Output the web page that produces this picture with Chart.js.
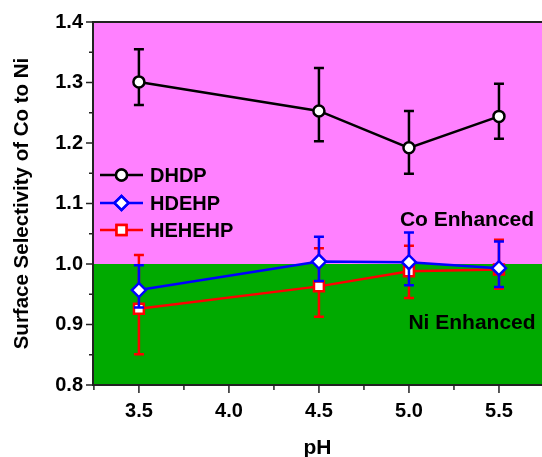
<!DOCTYPE html>
<html>
<head>
<meta charset="utf-8">
<script src="https://cdn.jsdelivr.net/npm/chart.js@4"></script>
<style>
  html, body { margin: 0; padding: 0; background: #fff; }
  #wrap { width: 542px; height: 457px; }
</style>
</head>
<body>
<div id="wrap"><canvas id="chart" width="542" height="457"></canvas></div>
<script>
const PH = [3.5, 4.5, 5.0, 5.5];

const DHDP = [1.301, 1.253, 1.192, 1.244];
const DHDP_HI = [1.355, 1.324, 1.253, 1.298];
const DHDP_LO = [1.263, 1.203, 1.149, 1.207];

const HDEHP = [0.957, 1.004, 1.003, 0.993];
const HDEHP_HI = [0.998, 1.045, 1.052, 1.037];
const HDEHP_LO = [0.928, 0.972, 0.965, 0.962];

const HEHEHP = [0.926, 0.963, 0.988, 0.991];
const HEHEHP_HI = [1.015, 1.026, 1.030, 1.040];
const HEHEHP_LO = [0.851, 0.913, 0.944, 0.959];

const X_TICKS = [3.25, 3.5, 3.75, 4.0, 4.25, 4.5, 4.75, 5.0, 5.25, 5.5];
const Y_TICKS = [0.8, 0.85, 0.9, 0.95, 1.0, 1.05, 1.1, 1.15, 1.2, 1.25, 1.3, 1.35, 1.4];
const SPLIT = 1.0;

const FONT = "'Liberation Sans', Arial, sans-serif";

const pts = (ys) => PH.map((x, i) => ({ x, y: ys[i] }));

const series = [
  { label: 'DHDP', y: DHDP, hi: DHDP_HI, lo: DHDP_LO, color: '#000000', style: 'circle', r: 5.5 },
  { label: 'HDEHP', y: HDEHP, hi: HDEHP_HI, lo: HDEHP_LO, color: '#0000ff', style: 'rectRot', r: 7 },
  { label: 'HEHEHP', y: HEHEHP, hi: HEHEHP_HI, lo: HEHEHP_LO, color: '#ff0000', style: 'rect', r: 7 }
];

// pink / green background split at 1.0
const bgPlugin = {
  id: 'bg',
  beforeDraw(chart) {
    const { ctx, chartArea: a, scales } = chart;
    const ys = scales.y.getPixelForValue(SPLIT);
    ctx.save();
    ctx.fillStyle = '#ff80ff';
    ctx.fillRect(a.left, a.top, a.right - a.left, ys - a.top);
    ctx.fillStyle = '#00aa00';
    ctx.fillRect(a.left, ys, a.right - a.left, a.bottom - ys);
    ctx.restore();
  }
};

// error bars, drawn just before each dataset
const errPlugin = {
  id: 'err',
  beforeDatasetDraw(chart, args) {
    const s = series[args.index];
    const { ctx, scales } = chart;
    ctx.save();
    ctx.strokeStyle = s.color;
    ctx.lineWidth = 2.5;
    PH.forEach((v, i) => {
      const x = scales.x.getPixelForValue(v);
      const yh = scales.y.getPixelForValue(s.hi[i]);
      const yl = scales.y.getPixelForValue(s.lo[i]);
      ctx.beginPath();
      ctx.moveTo(x, yh); ctx.lineTo(x, yl);
      ctx.moveTo(x - 5, yh); ctx.lineTo(x + 5, yh);
      ctx.moveTo(x - 5, yl); ctx.lineTo(x + 5, yl);
      ctx.stroke();
    });
    ctx.restore();
  }
};

// frame, tick marks, legend and region labels
const decoPlugin = {
  id: 'deco',
  afterDraw(chart) {
    const { ctx, chartArea: a, scales } = chart;
    ctx.save();
    ctx.strokeStyle = '#222';
    ctx.lineWidth = 2;
    ctx.beginPath();
    ctx.moveTo(chart.width, a.top); ctx.lineTo(a.left, a.top);
    ctx.lineTo(a.left, a.bottom); ctx.lineTo(chart.width, a.bottom);
    ctx.stroke();

    ctx.lineWidth = 1.5;
    ctx.beginPath();
    Y_TICKS.forEach(v => {
      const y = scales.y.getPixelForValue(v);
      const major = Math.abs(v * 10 - Math.round(v * 10)) < 1e-6;
      ctx.moveTo(a.left, y); ctx.lineTo(a.left - (major ? 7 : 4), y);
    });
    X_TICKS.forEach(v => {
      const x = scales.x.getPixelForValue(v);
      const major = Math.abs(v * 2 - Math.round(v * 2)) < 1e-6;
      ctx.moveTo(x, a.bottom); ctx.lineTo(x, a.bottom + (major ? 8 : 5));
    });
    ctx.stroke();

    // legend
    const rowY = [175, 203, 230];
    series.forEach((s, i) => {
      const y = rowY[i];
      ctx.strokeStyle = s.color;
      ctx.lineWidth = 2.5;
      ctx.beginPath();
      ctx.moveTo(100, y); ctx.lineTo(143, y);
      ctx.stroke();
      ctx.fillStyle = '#fff';
      Chart.helpers.drawPoint(ctx, { pointStyle: s.style, radius: s.r, borderWidth: 2.5 }, 121.5, y);
      ctx.fill();
      ctx.stroke();
      ctx.fillStyle = '#000';
      ctx.font = 'bold 20px ' + FONT;
      ctx.textBaseline = 'middle';
      ctx.textAlign = 'left';
      ctx.fillText(s.label, 150, y + 1);
    });

    ctx.font = 'bold 21px ' + FONT;
    ctx.textAlign = 'center';
    ctx.fillStyle = '#000';
    ctx.fillText('Co Enhanced', 467, 220);
    ctx.fillText('Ni Enhanced', 472, 323);
    ctx.restore();
  }
};

new Chart(document.getElementById('chart'), {
  type: 'scatter',
  data: {
    datasets: series.map(s => ({
      label: s.label,
      data: pts(s.y),
      showLine: true,
      borderColor: s.color,
      borderWidth: 2.5,
      pointStyle: s.style,
      pointRadius: s.r,
      pointBorderWidth: 2.5,
      pointBackgroundColor: '#fff',
      pointBorderColor: s.color
    }))
  },
  options: {
    responsive: false,
    animation: false,
    layout: { autoPadding: false, padding: { top: 22, right: 0, left: 0, bottom: 0 } },
    plugins: { legend: { display: false }, tooltip: { enabled: false } },
    scales: {
      x: {
        type: 'linear',
        min: 3.245,
        max: 5.739,
        afterBuildTicks(scale) { scale.ticks = X_TICKS.map(v => ({ value: v })); },
        afterFit(scale) { scale.height = 72; scale.paddingLeft = 0; scale.paddingRight = 0; },
        grid: { display: false, drawTicks: false },
        border: { display: false },
        ticks: {
          padding: 14,
          autoSkip: false,
          maxRotation: 0,
          color: '#000',
          font: { family: FONT, size: 20, weight: 'bold' },
          callback: v => (Math.abs(v * 2 - Math.round(v * 2)) < 1e-6 ? v.toFixed(1) : '')
        },
        title: {
          display: true,
          text: 'pH',
          color: '#000',
          padding: { top: 0, bottom: -4 },
          font: { family: FONT, size: 21, weight: 'bold' }
        }
      },
      y: {
        min: 0.8,
        max: 1.4,
        afterBuildTicks(scale) { scale.ticks = Y_TICKS.map(v => ({ value: v })); },
        afterFit(scale) { scale.width = 93; },
        grid: { display: false, drawTicks: false },
        border: { display: false },
        ticks: {
          padding: 10,
          autoSkip: false,
          color: '#000',
          font: { family: FONT, size: 20, weight: 'bold' },
          callback: v => (Math.abs(v * 10 - Math.round(v * 10)) < 1e-6 ? v.toFixed(1) : '')
        },
        title: {
          display: true,
          text: 'Surface Selectivity of Co to Ni',
          color: '#000',
          padding: { top: 10, bottom: 0 },
          font: { family: FONT, size: 20.5, weight: 'bold' }
        }
      }
    }
  },
  plugins: [bgPlugin, errPlugin, decoPlugin]
});
</script>
</body>
</html>
